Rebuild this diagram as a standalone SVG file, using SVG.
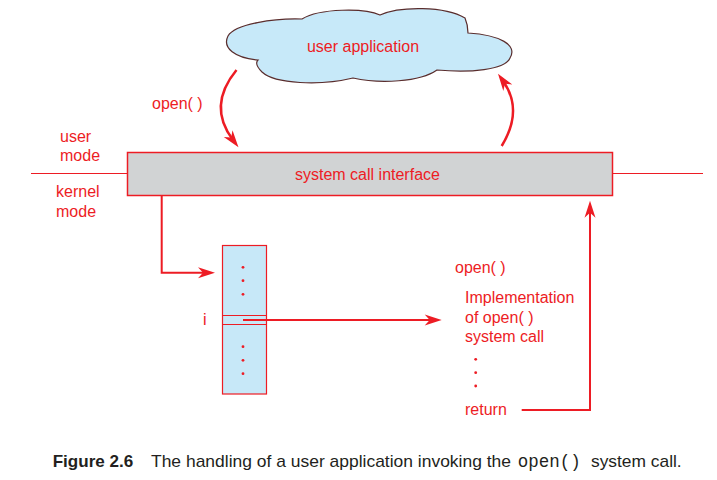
<svg xmlns="http://www.w3.org/2000/svg" width="717" height="480" viewBox="0 0 717 480">
<style>
.lbl{font-family:"Liberation Sans",Arial,sans-serif;font-size:16px;fill:#ed1c24}
.conn{fill:none;stroke:#ed1c24;stroke-width:2}
.arc{fill:none;stroke:#ed1c24;stroke-width:2.5}
.dot{fill:#ed1c24}
.cap{font-family:"Liberation Sans",Arial,sans-serif;font-size:17px;fill:#231f20}
.mono{font-family:"Liberation Mono","Courier New",monospace;font-size:17.5px;fill:#231f20}
</style>
<defs>
<marker id="ah" markerUnits="userSpaceOnUse" markerWidth="30" markerHeight="30" refX="0" refY="0" orient="auto" overflow="visible">
<path d="M9,0 L-8,-5.5 L-3,0 L-8,5.5 Z" fill="#ed1c24"/>
</marker>
</defs>
<rect width="717" height="480" fill="#ffffff"/>

<g id="mode-line">
<line x1="31" y1="173.5" x2="127.5" y2="173.5" stroke="#ed1c24" stroke-width="1.2"/>
<line x1="612.5" y1="173.5" x2="703" y2="173.5" stroke="#ed1c24" stroke-width="1.2"/>
</g>

<g id="user-application">
<path d="M258,60 C235,58 222,48 228,36 C235,24 275,18 302,19 C320,8 365,8 380,15 C400,6 445,6 465,18 C468,25 468,30 468,33 C500,35 518,45 510,58 C505,70 470,73 437,70 C420,82 380,84 353,78 C320,86 275,84 262,72 C256,66 256,62 258,60 Z" fill="#c7e9f9" stroke="#5a2d2d" stroke-width="1.2"/>
<text class="lbl" x="363" y="51.5" text-anchor="middle">user application</text>
</g>

<g id="mode-labels">
<text class="lbl" x="60" y="141.5">user</text>
<text class="lbl" x="60" y="160.5">mode</text>
<text class="lbl" x="56" y="196.5">kernel</text>
<text class="lbl" x="56" y="216.5">mode</text>
<text class="lbl" x="152" y="109">open( )</text>
</g>

<g id="system-call-interface">
<rect x="127.5" y="152.5" width="485" height="43" fill="#d1d3d4" stroke="#ed1c24" stroke-width="1.5"/>
<text class="lbl" x="295" y="180">system call interface</text>
</g>

<g id="table">
<rect x="222.5" y="245.5" width="44" height="148.5" fill="#c7e8f8" stroke="#ed1c24" stroke-width="1.2"/>
<line x1="222.5" y1="315.5" x2="266.5" y2="315.5" stroke="#ed1c24" stroke-width="1.2"/>
<line x1="222.5" y1="324.5" x2="266.5" y2="324.5" stroke="#ed1c24" stroke-width="1.2"/>
<circle class="dot" cx="243" cy="267.3" r="1.4"/>
<circle class="dot" cx="243" cy="280.7" r="1.4"/>
<circle class="dot" cx="243" cy="294.3" r="1.4"/>
<circle class="dot" cx="243" cy="346.7" r="1.4"/>
<circle class="dot" cx="243" cy="360.3" r="1.4"/>
<circle class="dot" cx="243" cy="373.7" r="1.4"/>
<text class="lbl" x="203" y="325">i</text>
</g>

<g id="implementation">
<text class="lbl" x="455" y="272.5">open( )</text>
<text class="lbl" x="465" y="302.5">Implementation</text>
<text class="lbl" x="465" y="322.5">of open( )</text>
<text class="lbl" x="465" y="341.5">system call</text>
<circle class="dot" cx="475.7" cy="359.3" r="1.4"/>
<circle class="dot" cx="475.7" cy="372.7" r="1.4"/>
<circle class="dot" cx="475.7" cy="386" r="1.4"/>
<text class="lbl" x="465" y="414.5">return</text>
</g>

<g id="connectors">
<path class="arc" d="M236.5,70 Q207,106 233,140" marker-end="url(#ah)"/>
<path class="arc" d="M501.7,146 Q523.6,110 503.2,81.2" marker-end="url(#ah)"/>
<path class="conn" d="M161.7,195.5 V272.7 H206" marker-end="url(#ah)"/>
<path class="conn" d="M243,320 H432.7" marker-end="url(#ah)"/>
<path class="conn" d="M521.7,410 H590 V209.7" marker-end="url(#ah)"/>
</g>

<g id="caption">
<text class="cap" x="52.7" y="466.7" style="font-weight:bold;font-size:16.5px" textLength="80.6" lengthAdjust="spacingAndGlyphs">Figure 2.6</text>
<text class="cap" x="151" y="466.7" textLength="360" lengthAdjust="spacingAndGlyphs">The handling of a user application invoking the</text>
<text class="mono" x="517.7" y="466.7" textLength="63" lengthAdjust="spacingAndGlyphs">open()</text>
<text class="cap" x="591" y="466.7" textLength="90.7" lengthAdjust="spacingAndGlyphs">system call.</text>
</g>
</svg>
